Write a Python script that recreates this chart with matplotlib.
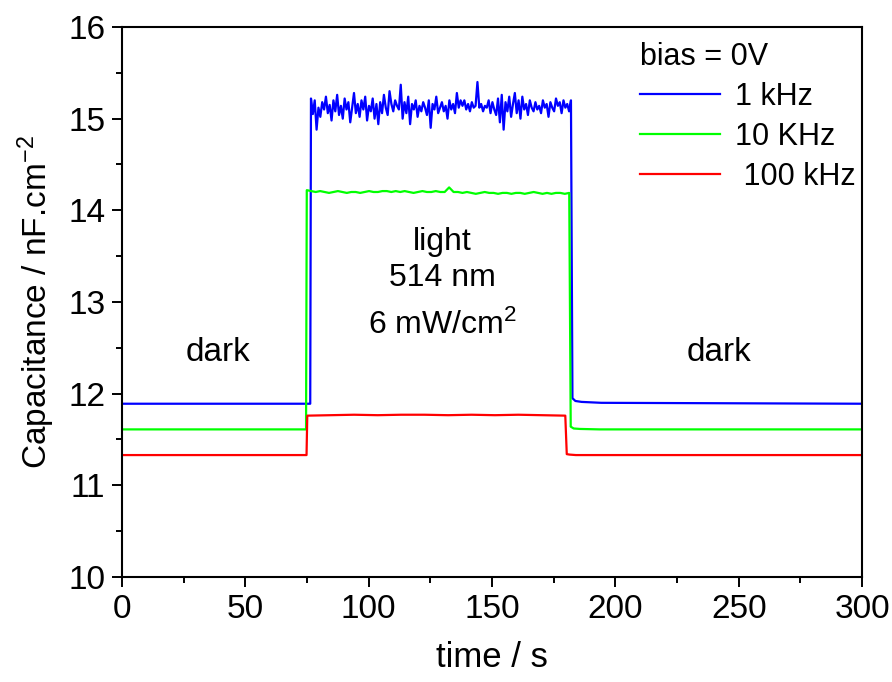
import numpy as np
import matplotlib
matplotlib.use("Agg")
import matplotlib.pyplot as plt

plt.rcParams['font.family'] = ['Liberation Sans', 'DejaVu Sans']
plt.rcParams['mathtext.default'] = 'regular'

# switching times (s)
t_on = {'blue': 76.3, 'green': 74.6, 'red': 74.8}
t_off = {'blue': 182.3, 'green': 181.6, 'red': 180.0}

# dark levels (nF/cm2)
dark_before = {'blue': 11.89, 'green': 11.61, 'red': 11.33}
after_t = [0.3, 1.5, 4.0, 12.0]  # seconds after light off
after_vals = {
    'blue': [11.95, 11.92, 11.91, 11.90, 11.89],
    'green': [11.64, 11.62, 11.615, 11.61, 11.61],
    'red': [11.34, 11.335, 11.33, 11.33, 11.33],
}

# light plateaus
blue_light = [15.22, 15.05, 15.20, 14.88, 15.12, 15.02, 15.18, 15.10, 15.24, 15.06,
              15.15, 14.98, 15.20, 15.08, 15.26, 15.04, 15.14, 15.00, 15.22, 15.10,
              15.18, 14.96, 15.12, 15.28, 15.06, 15.16, 15.02, 15.20, 15.10, 15.24,
              14.98, 15.14, 15.08, 15.22, 15.00, 15.16, 14.94, 15.18, 15.06, 15.26,
              15.12, 15.04, 15.30, 15.16, 15.08, 15.20, 15.14, 15.10, 15.37, 15.00,
              15.18, 15.06, 15.24, 14.94, 15.16, 15.10, 15.20, 15.02, 15.14, 15.08,
              15.18, 15.12, 15.04, 15.20, 14.90, 15.16, 15.10, 15.24, 15.06, 15.12,
              15.18, 15.08, 15.14, 15.00, 15.20, 15.10, 15.16, 15.06, 15.28, 15.12,
              15.20, 15.14, 15.20, 15.10, 15.16, 15.08, 15.18, 15.12, 15.14, 15.40,
              15.12, 15.16, 15.08, 15.14, 15.12, 15.20, 15.06, 15.18, 15.10, 15.04,
              15.22, 14.96, 15.26, 14.88, 15.18, 15.08, 15.24, 15.02, 15.16, 15.28,
              15.06, 15.20, 15.00, 15.24, 15.10, 15.16, 15.04, 15.20, 15.12, 15.08,
              15.18, 15.10, 15.14, 15.06, 15.20, 15.12, 15.16, 15.02, 15.18, 15.12,
              15.08, 15.22, 15.14, 15.18, 15.06, 15.20, 15.12, 15.16, 15.08, 15.20]
green_light = [14.22, 14.21, 14.20, 14.21, 14.20, 14.19, 14.20, 14.21, 14.20, 14.19,
               14.20, 14.20, 14.19, 14.20, 14.21, 14.20, 14.20, 14.21, 14.21, 14.20,
               14.21, 14.20, 14.21, 14.20, 14.19, 14.20, 14.21, 14.20, 14.20, 14.21,
               14.20, 14.20, 14.25, 14.20, 14.20, 14.19, 14.20, 14.19, 14.18, 14.19,
               14.20, 14.19, 14.19, 14.18, 14.19, 14.19, 14.18, 14.19, 14.19, 14.18,
               14.19, 14.20, 14.19, 14.18, 14.19, 14.18, 14.19, 14.19, 14.18, 14.19]
red_light = [11.76, 11.765, 11.77, 11.765, 11.77, 11.77, 11.765, 11.77, 11.765, 11.77,
             11.765, 11.76]

light = {'blue': blue_light, 'green': green_light, 'red': red_light}
colors = {'blue': '#0000ff', 'green': '#00ff00', 'red': '#ff0000'}
labels = {'blue': '1 kHz', 'green': '10 KHz', 'red': ' 100 kHz'}

fig = plt.figure(figsize=(8.92, 6.82), dpi=100)
ax = fig.add_axes([0.1368, 0.154, 0.8296, 0.8064])

for k in ['blue', 'green', 'red']:
    vals = light[k]
    tl = np.linspace(t_on[k] + 0.3, t_off[k] - 0.3, len(vals))
    ta = [t_off[k] + d for d in after_t] + [300]
    t = np.concatenate([[0, t_on[k]], tl, ta])
    y = np.concatenate([[dark_before[k], dark_before[k]], vals, after_vals[k]])
    ax.plot(t, y, color=colors[k], lw=1.6, label=labels[k])

ax.set_xlim(0, 300)
ax.set_ylim(10, 16)
ax.set_xticks([0, 50, 100, 150, 200, 250, 300])
ax.set_xticks(np.arange(25, 300, 50), minor=True)
ax.set_yticks([10, 11, 12, 13, 14, 15, 16])
ax.set_yticks(np.arange(10.5, 16, 1), minor=True)
ax.tick_params(which='major', direction='out', length=7, width=1.4, labelsize=24, pad=5)
ax.tick_params(which='minor', direction='out', length=4, width=1.4)
for s in ax.spines.values():
    s.set_linewidth(1.5)

ax.set_xlabel('time / s', fontsize=25, labelpad=12)
ax.set_ylabel(r'Capacitance / nF.cm$^{-2}$', fontsize=24, labelpad=8)

ax.text(39, 12.45, 'dark', fontsize=24, ha='center', va='center')
ax.text(242, 12.45, 'dark', fontsize=24, ha='center', va='center')
ax.text(130, 13.65, 'light', fontsize=23, ha='center', va='center')
ax.text(130, 13.26, '514 nm', fontsize=23, ha='center', va='center')
ax.text(130, 12.74, r'6 mW/cm$^2$', fontsize=23, ha='center', va='center')

leg = ax.legend(title='bias = 0V', loc='upper right', frameon=False, fontsize=22,
                title_fontsize=22, handlelength=2.6, handletextpad=0.5,
                labelspacing=0.32, alignment='left', borderaxespad=0.1,
                bbox_to_anchor=(1.012, 1.0))

fig.savefig('out.png', dpi=100)
